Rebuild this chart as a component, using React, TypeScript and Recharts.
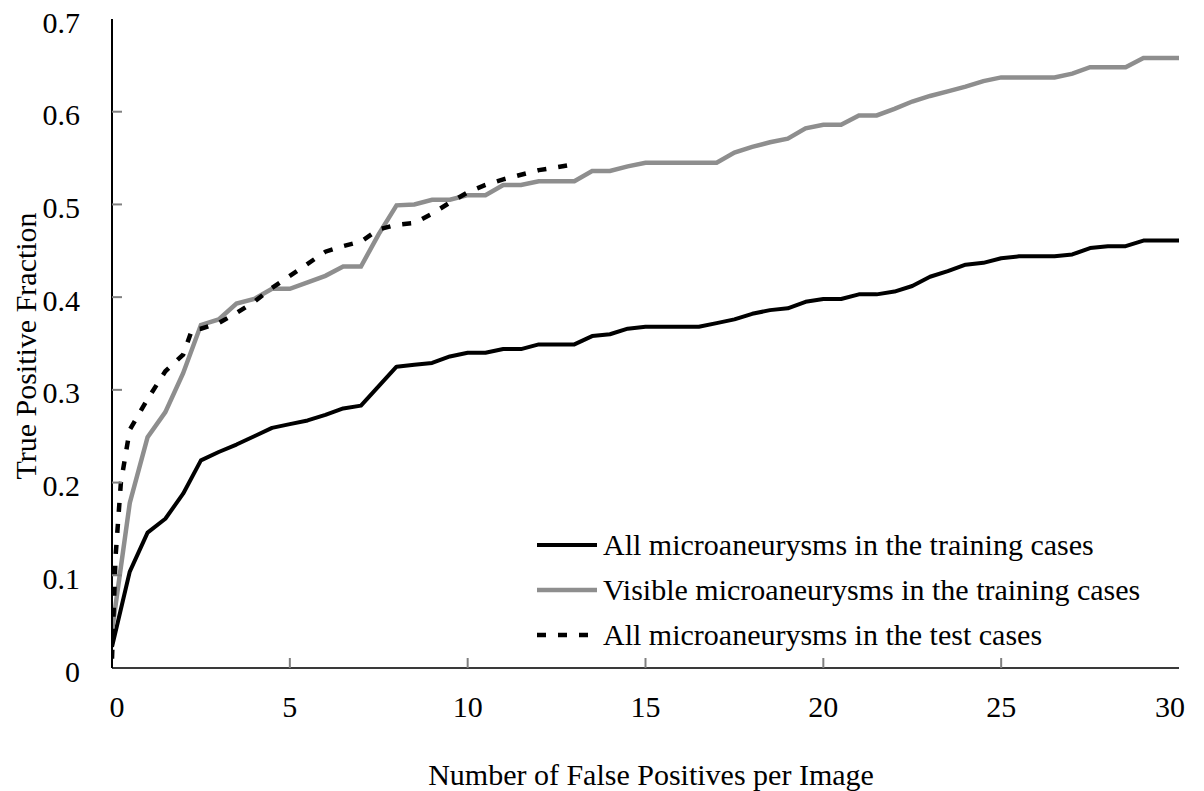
import React from 'react';
import { LineChart, Line, XAxis, YAxis, Legend } from 'recharts';

const FONT = '"Liberation Serif", "Times New Roman", serif';

const xTicks = [0, 5, 10, 15, 20, 25, 30];
const yTicks = [0, 0.1, 0.2, 0.3, 0.4, 0.5, 0.6, 0.7];

const trainX = [0, 0.5, 1, 1.5, 2, 2.5, 3, 3.5, 4, 4.5, 5, 5.5, 6, 6.5, 7, 7.5, 8, 8.5, 9, 9.5, 10, 10.5, 11, 11.5, 12, 12.5, 13, 13.5, 14, 14.5, 15, 15.5, 16, 16.5, 17, 17.5, 18, 18.5, 19, 19.5, 20, 20.5, 21, 21.5, 22, 22.5, 23, 23.5, 24, 24.5, 25, 25.5, 26, 26.5, 27, 27.5, 28, 28.5, 29, 29.5, 30];

const allTrainY = [0.023, 0.104, 0.146, 0.161, 0.188, 0.224, 0.233, 0.241, 0.25, 0.259, 0.263, 0.267, 0.273, 0.28, 0.283, 0.304, 0.325, 0.327, 0.329, 0.336, 0.34, 0.34, 0.344, 0.344, 0.349, 0.349, 0.349, 0.358, 0.36, 0.366, 0.368, 0.368, 0.368, 0.368, 0.372, 0.376, 0.382, 0.386, 0.388, 0.395, 0.398, 0.398, 0.403, 0.403, 0.406, 0.412, 0.422, 0.428, 0.435, 0.437, 0.442, 0.444, 0.444, 0.444, 0.446, 0.453, 0.455, 0.455, 0.461, 0.461, 0.461];

const visibleTrainY = [0.04, 0.178, 0.249, 0.276, 0.318, 0.37, 0.376, 0.393, 0.398, 0.409, 0.409, 0.416, 0.423, 0.433, 0.433, 0.468, 0.499, 0.5, 0.505, 0.505, 0.51, 0.51, 0.521, 0.521, 0.525, 0.525, 0.525, 0.536, 0.536, 0.541, 0.545, 0.545, 0.545, 0.545, 0.545, 0.556, 0.562, 0.567, 0.571, 0.582, 0.586, 0.586, 0.596, 0.596, 0.603, 0.611, 0.617, 0.622, 0.627, 0.633, 0.637, 0.637, 0.637, 0.637, 0.641, 0.648, 0.648, 0.648, 0.658, 0.658, 0.658];

const testX = [0, 0.1, 0.25, 0.5, 1, 1.5, 2, 2.25, 2.5, 3, 3.5, 4, 4.5, 5, 5.5, 6, 6.5, 7, 7.5, 8, 8.5, 9, 9.5, 10, 10.5, 11, 11.5, 12, 12.5, 12.8];
const allTestY = [0.01, 0.12, 0.2, 0.257, 0.29, 0.32, 0.338, 0.365, 0.366, 0.372, 0.383, 0.395, 0.41, 0.423, 0.436, 0.449, 0.455, 0.46, 0.473, 0.478, 0.48, 0.49, 0.502, 0.513, 0.521, 0.527, 0.532, 0.537, 0.54, 0.542];

const seriesNames = [
  'All microaneurysms in the training cases',
  'Visible microaneurysms in the training cases',
  'All microaneurysms in the test cases',
];

const zip = (xs: number[], ys: number[]) => xs.map((x, i) => ({ x, y: ys[i] }));
const allTrainData = zip(trainX, allTrainY);
const visibleTrainData = zip(trainX, visibleTrainY);
const allTestData = zip(testX, allTestY);

const GRAY = '#8e8e8e';
const DASH = '9 12';

const styles = [
  { stroke: '#000', width: 4, dash: undefined as string | undefined },
  { stroke: GRAY, width: 4.5, dash: undefined as string | undefined },
  { stroke: '#000', width: 4.5, dash: DASH },
];

const Y_MARGIN = 32;
const X_MARGIN = 38;

const YTick = (props: any) => {
  const { x, y, payload } = props;
  const v = payload.value;
  return (
    <g>
      {v > 0 && v < 0.7 && (
        <line x1={x + Y_MARGIN} x2={x + Y_MARGIN + 10} y1={y} y2={y} stroke="#808080" strokeWidth={2} />
      )}
      <text x={x} y={y + 3} dy="0.35em" textAnchor="end" fontFamily={FONT} fontSize={30} fill="#000">
        {String(v)}
      </text>
    </g>
  );
};

const XTick = (props: any) => {
  const { x, y, payload } = props;
  const v = payload.value;
  const nudge = v === 0 ? 5 : v === 30 ? -9 : 0;
  return (
    <g>
      {v > 0 && v < 30 && (
        <line x1={x} x2={x} y1={y - X_MARGIN} y2={y - X_MARGIN - 10} stroke="#808080" strokeWidth={2} />
      )}
      <text x={x + nudge} y={y} dy="0.35em" textAnchor="middle" fontFamily={FONT} fontSize={30} fill="#000">
        {String(v)}
      </text>
    </g>
  );
};

const LegendContent = () => (
  <div style={{ fontFamily: FONT, fontSize: 30, color: '#000' }}>
    {seriesNames.map((name, i) => (
      <div key={name} style={{ display: 'flex', alignItems: 'center', height: 45, whiteSpace: 'nowrap' }}>
        <svg width={62} height={12} style={{ display: 'block' }}>
          <line
            x1={0}
            x2={60}
            y1={6}
            y2={6}
            stroke={styles[i].stroke}
            strokeWidth={styles[i].width}
            strokeDasharray={styles[i].dash}
          />
        </svg>
        <span style={{ marginLeft: 4, lineHeight: '45px' }}>{name}</span>
      </div>
    ))}
  </div>
);

export default function App() {
  return (
    <div style={{ position: 'relative', width: 1204, height: 791, margin: '-8px 0 0 -8px' }}>
      <LineChart
        width={1204}
        height={791}
        margin={{ top: 19, right: 25, bottom: 63, left: 0 }}
        style={{ overflow: 'visible' }}
      >
        <XAxis
          xAxisId="b"
          type="number"
          dataKey="x"
          domain={[0, 30]}
          ticks={xTicks}
          allowDataOverflow
          height={60}
          tickSize={0}
          tickMargin={X_MARGIN}
          tickLine={false}
          axisLine={{ stroke: '#3a3a3a', strokeWidth: 2 }}
          tick={<XTick />}
          interval={0}
        />
        <XAxis
          xAxisId="t"
          orientation="top"
          type="number"
          dataKey="x"
          domain={[0, 30]}
          height={0}
          tick={false}
          tickLine={false}
          axisLine={{ stroke: '#808080', strokeWidth: 2 }}
        />
        <YAxis
          yAxisId="l"
          type="number"
          domain={[0, 0.7]}
          ticks={yTicks}
          allowDataOverflow
          width={112}
          tickSize={0}
          tickMargin={Y_MARGIN}
          tickLine={false}
          axisLine={{ stroke: '#000', strokeWidth: 2 }}
          tick={<YTick />}
          interval={0}
        />
        <YAxis
          yAxisId="r"
          orientation="right"
          type="number"
          domain={[0, 0.7]}
          width={0}
          tick={false}
          tickLine={false}
          axisLine={{ stroke: '#808080', strokeWidth: 2 }}
        />
        <Legend
          layout="vertical"
          align="center"
          verticalAlign="middle"
          wrapperStyle={{ left: 537, top: 522, width: 620 }}
          content={<LegendContent />}
        />
        <Line
          xAxisId="b"
          yAxisId="l"
          data={allTrainData}
          dataKey="y"
          name={seriesNames[0]}
          stroke="#000"
          strokeWidth={4}
          dot={false}
          activeDot={false}
          isAnimationActive={false}
          strokeLinejoin="round"
        />
        <Line
          xAxisId="b"
          yAxisId="l"
          data={visibleTrainData}
          dataKey="y"
          name={seriesNames[1]}
          stroke={GRAY}
          strokeWidth={4.5}
          dot={false}
          activeDot={false}
          isAnimationActive={false}
        />
        <Line
          xAxisId="b"
          yAxisId="l"
          data={allTestData}
          dataKey="y"
          name={seriesNames[2]}
          stroke="#000"
          strokeWidth={4.5}
          strokeDasharray={DASH}
          dot={false}
          activeDot={false}
          isAnimationActive={false}
        />
      </LineChart>
      <div
        style={{
          position: 'absolute',
          left: 651,
          top: 775,
          fontFamily: FONT,
          fontSize: 30,
          lineHeight: 1,
          color: '#000',
          whiteSpace: 'nowrap',
          transform: 'translate(-50%, -50%)',
          pointerEvents: 'none',
        }}
      >
        Number of False Positives per Image
      </div>
      <div
        style={{
          position: 'absolute',
          left: 26,
          top: 346,
          fontFamily: FONT,
          fontSize: 30,
          lineHeight: 1,
          color: '#000',
          whiteSpace: 'nowrap',
          transform: 'translate(-50%, -50%) rotate(-90deg)',
          pointerEvents: 'none',
        }}
      >
        True Positive Fraction
      </div>
    </div>
  );
}
